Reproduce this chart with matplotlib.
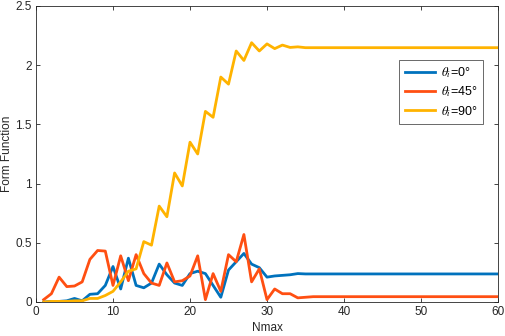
import matplotlib
matplotlib.use("Agg")
import matplotlib.pyplot as plt

#################
# Data
#################
nmax = list(range(1, 61))

# theta_i = 0 deg
form_0 = [0.0, 0.005, 0.005, 0.01, 0.03, 0.01, 0.065, 0.07, 0.14, 0.30,
          0.11, 0.37, 0.14, 0.12, 0.16, 0.32, 0.23, 0.16, 0.14, 0.24,
          0.26, 0.24, 0.14, 0.04, 0.27, 0.34, 0.41, 0.32, 0.29, 0.21,
          0.22, 0.225, 0.23, 0.24, 0.237, 0.237, 0.237, 0.237, 0.237, 0.237,
          0.237, 0.237, 0.237, 0.237, 0.237, 0.237, 0.237, 0.237, 0.237, 0.237,
          0.237, 0.237, 0.237, 0.237, 0.237, 0.237, 0.237, 0.237, 0.237, 0.237]

# theta_i = 45 deg
form_45 = [0.02, 0.07, 0.21, 0.13, 0.135, 0.17, 0.36, 0.435, 0.43, 0.14,
           0.39, 0.18, 0.40, 0.24, 0.16, 0.14, 0.33, 0.17, 0.18, 0.22,
           0.39, 0.02, 0.24, 0.09, 0.40, 0.34, 0.57, 0.17, 0.28, 0.02,
           0.11, 0.07, 0.07, 0.035, 0.04, 0.045, 0.045, 0.045, 0.045, 0.045,
           0.045, 0.045, 0.045, 0.045, 0.045, 0.045, 0.045, 0.045, 0.045, 0.045,
           0.045, 0.045, 0.045, 0.045, 0.045, 0.045, 0.045, 0.045, 0.045, 0.045]

# theta_i = 90 deg
form_90 = [0.0, 0.005, 0.005, 0.005, 0.01, 0.01, 0.03, 0.03, 0.055, 0.09,
           0.17, 0.26, 0.28, 0.51, 0.48, 0.81, 0.72, 1.09, 0.98, 1.35,
           1.25, 1.61, 1.56, 1.90, 1.84, 2.12, 2.04, 2.19, 2.12, 2.18,
           2.14, 2.17, 2.15, 2.155, 2.148, 2.148, 2.148, 2.148, 2.148, 2.148,
           2.148, 2.148, 2.148, 2.148, 2.148, 2.148, 2.148, 2.148, 2.148, 2.148,
           2.148, 2.148, 2.148, 2.148, 2.148, 2.148, 2.148, 2.148, 2.148, 2.148]

labels = [r'$\theta_i$=0°', r'$\theta_i$=45°', r'$\theta_i$=90°']
colors = ['#0072BD', '#FF4F12', '#FFB300']

#################
# Plot
#################
plt.rcParams['font.family'] = ['Liberation Sans', 'DejaVu Sans']
plt.rcParams['mathtext.fontset'] = 'stix'

fig = plt.figure(figsize=(5.05, 3.36), dpi=100)
ax = fig.add_axes([36 / 505, 1 - 302 / 336, 462 / 505, 296 / 336])

for ys, lab, c in zip([form_0, form_45, form_90], labels, colors):
    ax.plot(nmax, ys, color=c, linewidth=2.0, label=lab)

ax.set_xlim(0, 60)
ax.set_ylim(0, 2.5)
ax.set_xticks([0, 10, 20, 30, 40, 50, 60])
ax.set_yticks([0, 0.5, 1, 1.5, 2, 2.5])
ax.set_yticklabels(['0', '0.5', '1', '1.5', '2', '2.5'])
ax.set_xlabel('Nmax', fontsize=8.5, color='#262626')
ax.set_ylabel('Form Function', fontsize=8.5, color='#262626')
ax.yaxis.set_label_coords(-0.05, 0.5)
ax.xaxis.set_label_coords(0.5, -0.066)

ax.tick_params(direction='in', top=True, right=True, length=3,
               width=0.6, labelsize=8.5, colors='#262626', pad=3)
for s in ax.spines.values():
    s.set_color('#262626')
    s.set_linewidth(0.6)

leg = ax.legend(loc='upper right', bbox_to_anchor=(0.968, 0.818),
                fontsize=9, frameon=True, fancybox=False, edgecolor='#262626',
                handlelength=2.4, handletextpad=0.5, borderpad=0.45,
                labelspacing=0.35, borderaxespad=0)
leg.get_frame().set_linewidth(0.6)

fig.savefig('out.png', dpi=100)
